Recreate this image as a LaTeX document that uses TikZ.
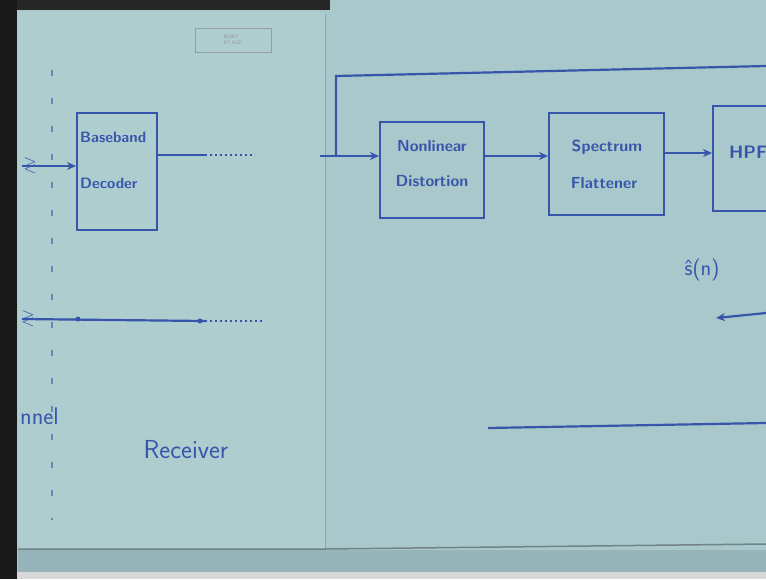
\documentclass[tikz,border=0pt]{standalone}
\usepackage{amssymb}
\usetikzlibrary{arrows.meta}
\definecolor{paper}{RGB}{174,205,207}
\definecolor{paperR}{RGB}{168,200,203}
\definecolor{paperD}{RGB}{150,180,186}
\definecolor{ink}{RGB}{55,85,170}
\definecolor{edge}{RGB}{140,165,170}
\begin{document}
\begin{tikzpicture}[x=1pt,y=-1pt,
  blk/.style={draw=ink, line width=2pt, inner sep=0pt},
  wire/.style={draw=ink, line width=2.2pt},
  arr/.style={wire, -{Stealth[length=9pt,width=8pt]}},
  dots/.style={draw=ink, line width=1.2pt, dash pattern=on 2pt off 3pt},
  lbl/.style={text=ink, font=\sffamily, inner sep=0pt},
  btxt/.style={lbl, font=\sffamily\bfseries\fontsize{15}{18}\selectfont}]
\useasboundingbox (0,0) rectangle (766,579);
\clip (0,0) rectangle (766,579);
% background / photo frame
\fill[paperR] (0,0) rectangle (766,579);
\fill[paper] (18,12) rectangle (325,550);
\fill[paperD] (18,550) rectangle (766,572);
\fill[gray!30] (0,572) rectangle (766,579);
\fill[black!85] (0,0) rectangle (330,10);
\fill[black!90] (0,0) rectangle (17,579);
\draw[edge, line width=1pt] (325,14) -- (325,550);
\draw[edge!80!black, line width=1.5pt] (18,549) -- (325,549) -- (766,544);
% stamp
\node[draw=gray!60!paper, line width=0.8pt, minimum width=76pt, minimum height=24pt, text=gray!70!paper, font=\tiny\sffamily, align=left, inner sep=1pt] (stamp) at (233,40) {IEHET\\IIT KGP};
% channel boundary dashed
\draw[ink!60!paper, line width=1.5pt, dash pattern=on 6pt off 22pt] (52,70) -- (52,520);
% Baseband decoder
\node[blk, minimum width=80pt, minimum height=117pt] (bd) at (117,171.5) {};
\node[btxt, anchor=west] (bdt1) at (80,137) {Baseband};
\node[btxt, anchor=west] (bdt2) at (80,183) {Decoder};
\coordinate (inA) at (22,166);
\draw[arr] (inA) -- (bd.west |- inA);
\node[lbl, font=\sffamily\LARGE] (sq1) at (30,165) {$\gtrless$};
\coordinate (bdo) at (205,155);
\draw[wire] (bd.east |- bdo) -- (bdo);
\coordinate (bdd) at (255,155);
\draw[dots] (bdo) -- (bdd);
% lower line
\coordinate (lowA) at (22,319);
\coordinate (lowB) at (205,321);
\coordinate (lowC) at (262,321);
\draw[wire] (lowA) -- (lowB);
\draw[dots] (lowB) -- (lowC);
\fill[ink] (78,319) circle (2.5pt);
\fill[ink] (200,321) circle (2.5pt);
\node[lbl, font=\sffamily\LARGE] (sq2) at (28,318) {$\gtrless$};
% labels
\node[lbl, font=\sffamily\fontsize{24}{28}\selectfont, anchor=west] (chan) at (20,416) {nnel};
\node[lbl, font=\sffamily\fontsize{26}{30}\selectfont] (recv) at (186,450) {Receiver};
% Right chain
\node[blk, minimum width=104pt, minimum height=96pt] (nd) at (432,170) {};
\node[btxt, font=\sffamily\bfseries\fontsize{16}{18}\selectfont] (ndt1) at (432,146) {Nonlinear};
\node[btxt, font=\sffamily\bfseries\fontsize{16}{18}\selectfont] (ndt2) at (432,181) {Distortion};
\node[blk, minimum width=115pt, minimum height=102pt] (sf) at (606.5,164) {};
\node[btxt, font=\sffamily\bfseries\fontsize{16}{18}\selectfont] (sft1) at (607,147) {Spectrum};
\node[btxt, font=\sffamily\bfseries\fontsize{16}{18}\selectfont] (sft2) at (604,183) {Flattener};
\node[blk, minimum width=100pt, minimum height=105pt, anchor=north west] (hpf) at (712,105) {};
\node[btxt, font=\sffamily\bfseries\fontsize{18}{20}\selectfont, anchor=west] (hpft) at (729,152) {HPF};
\coordinate (ndin) at (320,156);
\draw[arr] (ndin) -- (nd.west |- ndin);
\coordinate (fbA) at (336,156);
\coordinate (fbB) at (336,76);
\coordinate (fbC) at (766,66);
\draw[wire] (fbA) -- (fbB) -- (fbC);
\draw[arr] (nd.east |- 0,156) -- (sf.west |- 0,156);
\draw[arr] (sf.east |- 0,153) -- (hpf.west |- 0,153);
\node[lbl, font=\sffamily\fontsize{22}{26}\selectfont] (shat) at (702,270) {ŝ(n)};
\coordinate (oA) at (766,313);
\coordinate (oB) at (716,318);
\draw[arr] (oA) -- (oB);
\coordinate (bA) at (488,428);
\coordinate (bB) at (766,423);
\draw[wire] (bA) -- (bB);
\end{tikzpicture}
\end{document}
